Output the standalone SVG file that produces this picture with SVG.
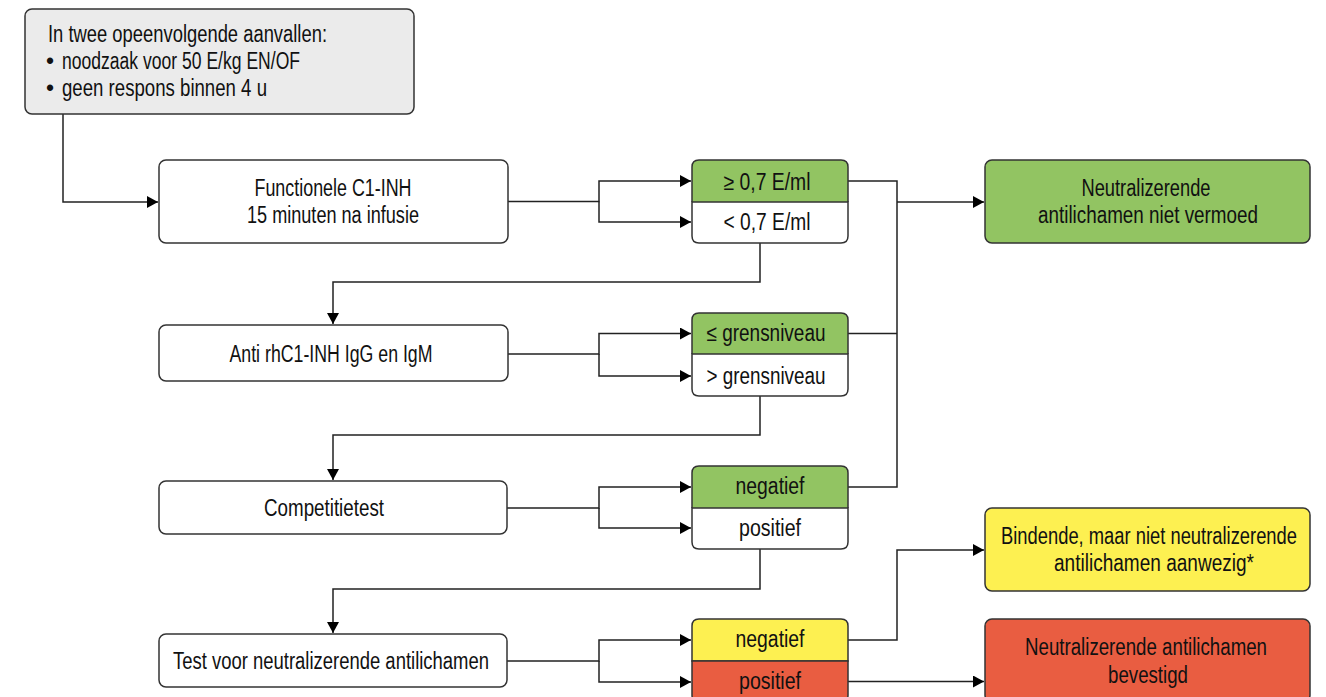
<svg xmlns="http://www.w3.org/2000/svg" width="1326" height="697" viewBox="0 0 1326 697">
<style>
.box{stroke:#333;stroke-width:1.5}
.w{fill:#fff}
.g{fill:#92c462}
.y{fill:#fdf051}
.r{fill:#e95d41}
.grey{fill:#ebebeb}
.c{fill:none;stroke:#222;stroke-width:1.5}
text{font-family:"Liberation Sans",Arial,sans-serif;font-size:23px;fill:#111}
.m{text-anchor:middle}
</style>
<defs>
<marker id="ah" markerWidth="12" markerHeight="12" refX="11" refY="6" orient="auto" markerUnits="userSpaceOnUse">
<path d="M0,0 L11,6 L0,12 Z" fill="#000"/>
</marker>
</defs>
<rect width="1326" height="697" fill="#fff"/>
<g id="connectors">
<path class="c" d="M63,114 V202 H158" marker-end="url(#ah)"/>
<path class="c" d="M508,201.5 H599 V181 H691" marker-end="url(#ah)"/>
<path class="c" d="M599,201.5 V222 H691" marker-end="url(#ah)"/>
<path class="c" d="M848,181 H897 V487 H848"/>
<path class="c" d="M848,333.5 H897"/>
<path class="c" d="M897,202 H984" marker-end="url(#ah)"/>
<path class="c" d="M760,243 V282 H333 V324" marker-end="url(#ah)"/>
<path class="c" d="M508,354 H599 V333.5 H691" marker-end="url(#ah)"/>
<path class="c" d="M599,354 V376 H691" marker-end="url(#ah)"/>
<path class="c" d="M760,396 V435 H333 V480" marker-end="url(#ah)"/>
<path class="c" d="M507,508 H599 V487 H691" marker-end="url(#ah)"/>
<path class="c" d="M599,508 V528 H691" marker-end="url(#ah)"/>
<path class="c" d="M760,549 V589 H333 V633" marker-end="url(#ah)"/>
<path class="c" d="M507,661 H599 V640 H691" marker-end="url(#ah)"/>
<path class="c" d="M599,661 V682 H691" marker-end="url(#ah)"/>
<path class="c" d="M848,640 H897 V550 H984" marker-end="url(#ah)"/>
<path class="c" d="M848,681.5 H984" marker-end="url(#ah)"/>
</g>
<g id="start">
<rect class="box grey" x="25" y="9" width="389" height="105" rx="7"/>
<text x="48" y="42" textLength="279" lengthAdjust="spacingAndGlyphs">In twee opeenvolgende aanvallen:</text>
<text x="46" y="69">•</text>
<text x="62" y="69" textLength="238" lengthAdjust="spacingAndGlyphs">noodzaak voor 50 E/kg EN/OF</text>
<text x="46" y="96">•</text>
<text x="62" y="96" textLength="205" lengthAdjust="spacingAndGlyphs">geen respons binnen 4 u</text>
</g>
<g id="functionele">
<rect class="box w" x="159" y="160" width="349" height="83" rx="7"/>
<text class="m" x="333" y="195.5" textLength="157" lengthAdjust="spacingAndGlyphs">Functionele C1-INH</text>
<text class="m" x="333" y="222.5" textLength="172" lengthAdjust="spacingAndGlyphs">15 minuten na infusie</text>
</g>
<g id="split1">
<path class="g" d="M692,202 V167 Q692,160 699,160 H841 Q848,160 848,167 V202 Z"/>
<path class="box w" d="M692,202 H848 V236 Q848,243 841,243 H699 Q692,243 692,236 Z"/>
<path class="box" fill="none" d="M692,202 V167 Q692,160 699,160 H841 Q848,160 848,167 V202"/>
<text class="m" x="767" y="190" textLength="87" lengthAdjust="spacingAndGlyphs">≥ 0,7 E/ml</text>
<text class="m" x="767" y="230" textLength="87" lengthAdjust="spacingAndGlyphs">&lt; 0,7 E/ml</text>
</g>
<g id="niet-vermoed">
<rect class="box g" x="985" y="160" width="325" height="83" rx="7"/>
<text class="m" x="1146" y="195.5" textLength="129" lengthAdjust="spacingAndGlyphs">Neutralizerende</text>
<text class="m" x="1148" y="222.5" textLength="220" lengthAdjust="spacingAndGlyphs">antilichamen niet vermoed</text>
</g>
<g id="anti">
<rect class="box w" x="159" y="325" width="349" height="56" rx="7"/>
<text class="m" x="331" y="362" textLength="203" lengthAdjust="spacingAndGlyphs">Anti rhC1-INH IgG en IgM</text>
</g>
<g id="split2">
<path class="g" d="M692,354 V320 Q692,313 699,313 H841 Q848,313 848,320 V354 Z"/>
<path class="box w" d="M692,354 H848 V389 Q848,396 841,396 H699 Q692,396 692,389 Z"/>
<path class="box" fill="none" d="M692,354 V320 Q692,313 699,313 H841 Q848,313 848,320 V354"/>
<text class="m" x="766" y="341" textLength="119" lengthAdjust="spacingAndGlyphs">≤ grensniveau</text>
<text class="m" x="766" y="384" textLength="119" lengthAdjust="spacingAndGlyphs">&gt; grensniveau</text>
</g>
<g id="competitie">
<rect class="box w" x="159" y="481" width="348" height="53" rx="7"/>
<text class="m" x="324" y="515.5" textLength="120" lengthAdjust="spacingAndGlyphs">Competitietest</text>
</g>
<g id="split3">
<path class="g" d="M692,508 V473 Q692,466 699,466 H841 Q848,466 848,473 V508 Z"/>
<path class="box w" d="M692,508 H848 V542 Q848,549 841,549 H699 Q692,549 692,542 Z"/>
<path class="box" fill="none" d="M692,508 V473 Q692,466 699,466 H841 Q848,466 848,473 V508"/>
<text class="m" x="770" y="494" textLength="69" lengthAdjust="spacingAndGlyphs">negatief</text>
<text class="m" x="770" y="536" textLength="62" lengthAdjust="spacingAndGlyphs">positief</text>
</g>
<g id="bindende">
<rect class="box y" x="985" y="508" width="325" height="83" rx="7"/>
<text class="m" x="1149" y="543.5" textLength="296" lengthAdjust="spacingAndGlyphs">Bindende, maar niet neutralizerende</text>
<text class="m" x="1154" y="570.5" textLength="200" lengthAdjust="spacingAndGlyphs">antilichamen aanwezig*</text>
</g>
<g id="test">
<rect class="box w" x="159" y="634" width="348" height="53" rx="7"/>
<text class="m" x="331" y="668.5" textLength="316" lengthAdjust="spacingAndGlyphs">Test voor neutralizerende antilichamen</text>
</g>
<g id="split4">
<path class="box y" d="M692,661 V626 Q692,619 699,619 H841 Q848,619 848,626 V661 Z"/>
<path class="box r" d="M692,661 H848 V695 Q848,702 841,702 H699 Q692,702 692,695 Z"/>
<text class="m" x="770" y="647" textLength="69" lengthAdjust="spacingAndGlyphs">negatief</text>
<text class="m" x="770" y="689" textLength="62" lengthAdjust="spacingAndGlyphs">positief</text>
</g>
<g id="bevestigd">
<rect class="box r" x="985" y="619" width="325" height="83" rx="7"/>
<text class="m" x="1146" y="654.5" textLength="242" lengthAdjust="spacingAndGlyphs">Neutralizerende antilichamen</text>
<text class="m" x="1148" y="682.5" textLength="80" lengthAdjust="spacingAndGlyphs">bevestigd</text>
</g>
</svg>
